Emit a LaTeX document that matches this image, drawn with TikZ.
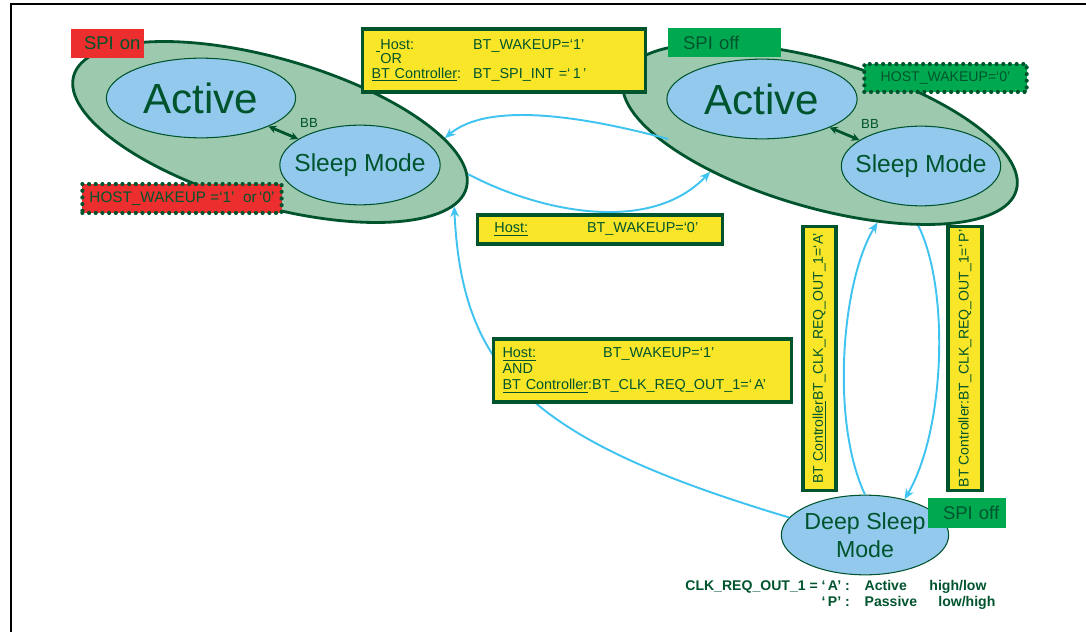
\documentclass[tikz,border=0pt]{standalone}
\usepackage{fontspec}
\setmainfont{Liberation Sans}
\usetikzlibrary{arrows.meta,shapes.geometric}

\definecolor{verdeosc}{RGB}{0,84,45}
\definecolor{verdeclaro}{RGB}{157,201,174}
\definecolor{azulclaro}{RGB}{147,201,236}
\definecolor{amarillo}{RGB}{250,230,40}
\definecolor{rojo}{RGB}{236,46,46}
\definecolor{verdespi}{RGB}{0,169,79}
\definecolor{celeste}{RGB}{63,195,240}

\newdimen\upx
\upx=0.5669pt

\tikzset{
  grupo/.style={ellipse, draw=verdeosc, line width=1.6pt, fill=verdeclaro,
    minimum width=410*\upx, minimum height=148*\upx, inner sep=0pt},
  modo/.style={ellipse, draw=verdeosc, line width=0.6pt, fill=azulclaro,
    text=verdeosc, inner xsep=-8pt, inner ysep=0pt, align=center},
  caja/.style={draw=verdeosc, line width=2pt, fill=amarillo, text=verdeosc,
    inner sep=0pt, align=left, font=\fontsize{8.2}{8.2}\selectfont},
  etiqspi/.style={text=verdeosc, inner sep=0pt, align=left,
    minimum height=30*\upx, font=\fontsize{10.5}{12}\selectfont},
  punteada/.style={draw=verdeosc, line width=2.4pt, dash pattern=on 0pt off 3.8pt,
    line cap=round, text=verdeosc, inner sep=0pt},
  flecha/.style={draw=celeste, line width=1.1pt, -{Stealth[length=6pt,width=5pt]}},
  dobleflecha/.style={draw=verdeosc, line width=1.6pt,
    {Stealth[length=4.5pt,width=4.5pt]}-{Stealth[length=4.5pt,width=4.5pt]}},
  textobb/.style={text=verdeosc, inner sep=0pt, font=\fontsize{7.5}{9}\selectfont}
}

\begin{document}
\begin{tikzpicture}[x=0.02cm,y=-0.02cm] %Modos SPI y de bajo consumo
  \useasboundingbox (0,0) rectangle (1086,632);

  \coordinate (marco) at (11,4);
  \coordinate (salida) at (668,139);

  \draw[line width=1.4pt] (1086,4) -- (marco) -- (11,632);

  \node[grupo, rotate=-16] (spion) at (270,132) {};
  \node[grupo, rotate=-16] (spioff) at (820,134) {};

  \node[modo, minimum width=190*\upx, minimum height=80*\upx, font=\fontsize{24}{28}\selectfont] (activo1) at (201,98) {Active};
  \node[modo, minimum width=161*\upx, minimum height=80*\upx, font=\fontsize{14}{16}\selectfont] (sueno1) at (360,165) {Sleep Mode};
  \node[modo, minimum width=191*\upx, minimum height=80*\upx, font=\fontsize{24}{28}\selectfont] (activo2) at (762,99) {Active};
  \node[modo, minimum width=160*\upx, minimum height=80*\upx, font=\fontsize{14}{16}\selectfont] (sueno2) at (921,166) {Sleep Mode};
  \node[modo, minimum width=168*\upx, minimum height=80*\upx, font=\fontsize{13.2}{16}\selectfont] (profundo) at (865,535) {Deep Sleep\\Mode};

  \draw[dobleflecha] (activo1) -- (sueno1);
  \draw[dobleflecha] (activo2) -- (sueno2);
  \node[textobb] (bb1) at (309,123) {BB};
  \node[textobb] (bb2) at (870,124) {BB};

  \draw[flecha] (spion.4) .. controls (540,212) and (650,235) .. (spioff.215);
  \draw[flecha] (salida) .. controls (590,118) and (490,100) .. (spion.14);
  \draw[flecha] (profundo.167) .. controls (530,440) and (462,372) .. (spion.-6);
  \draw[flecha] (profundo.north) .. controls (830,420) and (842,280) .. (spioff.-41);
  \draw[flecha] (spioff.-27) .. controls (950,290) and (945,430) .. (profundo.42);

  \node[etiqspi, fill=rojo, text width=73*\upx] (etiqon) at (107.5,43.5) {\hspace*{13\upx}SPI on};
  \node[etiqspi, fill=verdespi, text width=113*\upx] (etiqoff1) at (724.5,42.5) {\hspace*{15\upx}SPI off};
  \node[etiqspi, fill=verdespi, text width=78*\upx] (etiqoff2) at (967,513) {\hspace*{15\upx}SPI off};

  \node[punteada, fill=rojo, minimum width=200*\upx, minimum height=29*\upx, font=\fontsize{8.7}{10}\selectfont] (despierta1) at (182,198.5) {HOST\_WAKEUP =`1'\ \ or\,`0'};
  \node[punteada, fill=verdespi, minimum width=163*\upx, minimum height=28*\upx, font=\fontsize{8}{10}\selectfont] (despierta2) at (945.5,78) {HOST\_WAKEUP=`0'};

  \node[caja, text width=266*\upx, inner xsep=9*\upx, minimum height=63*\upx] (condor) at (504,60.5)
    {\makebox[102\upx][l]{\hspace*{4\upx}\underline{\hspace{5\upx}}Host:}BT\_WAKEUP=`1'\\
     \hspace*{9\upx}OR\\
     \makebox[102\upx][l]{\underline{BT Controller}:}BT\_SPI\_INT =`\,1\,'};
  \node[caja, text width=212*\upx, inner xsep=17*\upx, minimum height=29*\upx] (condcero) at (600,229.5)
    {\makebox[93\upx][l]{\underline{Host:}}BT\_WAKEUP=`0'};
  \node[caja, text width=281*\upx, inner xsep=9*\upx, minimum height=63*\upx, font=\fontsize{8.2}{9}\selectfont] (condand) at (642.5,370.5)
    {\makebox[101\upx][l]{\underline{Host:}}BT\_WAKEUP=`1'\\
     AND\\
     \underline{BT Controller}:BT\_CLK\_REQ\_OUT\_1=`\,A'};

  \node[caja, rotate=90, minimum width=265*\upx, minimum height=33*\upx, font=\fontsize{8}{9}\selectfont] (vertA) at (819.5,358.5)
    {BT \underline{Controller}BT\_CLK\_REQ\_OUT\_1=`A'};
  \node[caja, rotate=90, minimum width=265*\upx, minimum height=34*\upx, font=\fontsize{8}{9}\selectfont] (vertP) at (965,358.5)
    {BT Controller:BT\_CLK\_REQ\_OUT\_1=`\,P'};

  \node[anchor=west, text=verdeosc, inner sep=0pt, font=\bfseries\fontsize{8}{9}\selectfont] (leyenda) at (685,595)
    {\begin{tabular}{@{}r@{\hspace{15\upx}}l@{}l@{}}
     CLK\_REQ\_OUT\_1 = `\,A' : & \makebox[65\upx][l]{Active} & high/low\\
     `\,P' : & \makebox[65\upx][l]{Passive} & \hspace{9\upx}low/high
     \end{tabular}};
\end{tikzpicture}
\end{document}
